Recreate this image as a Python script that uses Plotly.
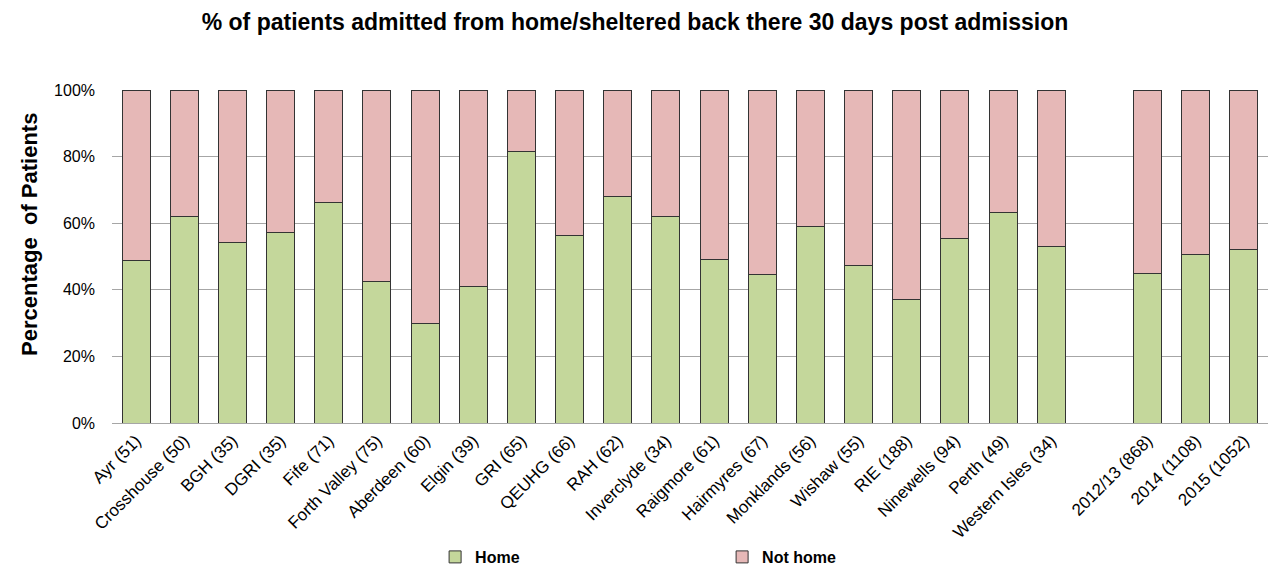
import plotly.graph_objects as go

categories = ["Ayr (51)", "Crosshouse (50)", "BGH (35)", "DGRI (35)", "Fife (71)",
              "Forth Valley (75)", "Aberdeen (60)", "Elgin (39)", "GRI (65)", "QEUHG (66)",
              "RAH (62)", "Inverclyde (34)", "Raigmore (61)", "Hairmyres (67)", "Monklands (56)",
              "Wishaw (55)", "RIE (188)", "Ninewells (94)", "Perth (49)", "Western Isles (34)",
              " ", "2012/13 (868)", "2014 (1108)", "2015 (1052)"]
home = [48.9, 62.1, 54.3, 57.2, 66.3, 42.6, 30.0, 41.1, 81.5, 56.2,
        67.9, 61.9, 49.2, 44.7, 58.9, 47.4, 37.1, 55.3, 63.3, 53.1,
        None, 45.0, 50.7, 52.2]
not_home = [None if h is None else round(100 - h, 1) for h in home]

fig = go.Figure()
fig.add_trace(go.Bar(x=categories, y=home, name="Home",
                     marker=dict(color="#c4d79b", line=dict(color="#333333", width=1))))
fig.add_trace(go.Bar(x=categories, y=not_home, name="Not home",
                     marker=dict(color="#e6b8b7", line=dict(color="#333333", width=1))))

fig.add_annotation(text="<b>Percentage\u00a0 of Patients</b>", textangle=-90,
                   xref="paper", yref="paper", x=-0.0709, y=0.565,
                   xanchor="center", yanchor="middle", showarrow=False,
                   font=dict(size=22, color="#000000"))

fig.update_layout(
    barmode="stack",
    bargap=0.42,
    width=1268, height=565,
    margin=dict(l=112, r=0, t=90, b=142),
    paper_bgcolor="white", plot_bgcolor="white",
    font=dict(family="Liberation Sans, Arial, sans-serif", color="#000000"),
    title=dict(text="<b>% of patients admitted from home/sheltered back there 30 days post admission</b>",
               x=635 / 1268, xanchor="center", y=1 - 22 / 565, yanchor="middle",
               font=dict(size=23, color="#000000")),
    showlegend=True,
    legend=dict(orientation="h", x=0.2795, xanchor="left",
                yref="container", y=1 - 557 / 565, yanchor="middle",
                font=dict(size=16, color="#000000", weight="bold"), entrywidth=242,
                entrywidthmode="pixels", traceorder="normal"),
    xaxis=dict(type="category", tickangle=-45, tickfont=dict(size=17, color="#000000"),
               showline=True, linecolor="#a6a6a6", linewidth=1, ticks="", showgrid=False,
               automargin=False),
    yaxis=dict(range=[0, 100], dtick=20, ticksuffix="%", tickfont=dict(size=16, color="#000000"),
               showgrid=True, gridcolor="#a6a6a6", gridwidth=1, zeroline=False,
               showline=False, ticks="", ticklabelstandoff=16, automargin=False),
)

fig.write_html("out.html")
